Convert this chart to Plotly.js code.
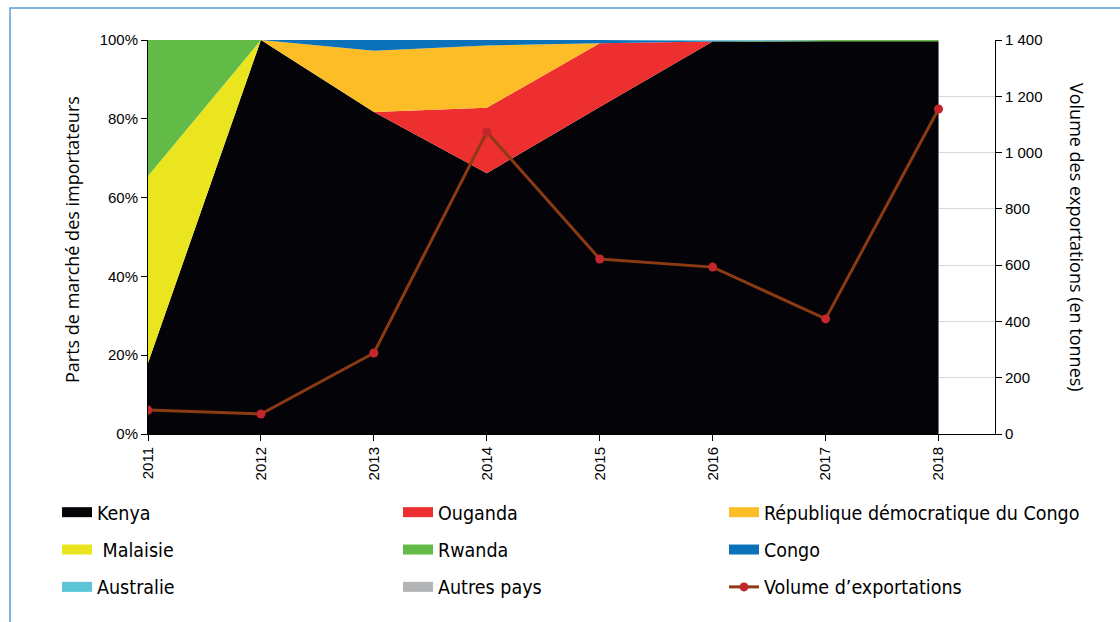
<!DOCTYPE html>
<html>
<head>
<meta charset="utf-8">
<script src="https://cdn.plot.ly/plotly-3.0.1.min.js"></script>
<style>html,body{margin:0;padding:0;background:#fff;}#chart{width:1120px;height:622px;}</style>
</head>
<body>
<div id="chart"></div>
<script>
const years = [2011, 2012, 2013, 2014, 2015, 2016, 2017, 2018];
const kenya     = [18.0, 100, 81.7, 66.2, 83.0, 99.6, 99.7, 99.7];
const ouganda   = [0, 0, 0, 16.6, 16.2, 0, 0, 0];
const rdc       = [0, 0, 15.6, 15.8, 0, 0, 0, 0];
const malaisie  = [47.5, 0, 0, 0, 0, 0, 0, 0];
const rwanda    = [34.5, 0, 0, 0, 0, 0, 0.3, 0.3];
const congo     = [0, 0, 2.7, 1.4, 0.8, 0.2, 0, 0];
const australie = [0, 0, 0, 0, 0, 0.2, 0, 0];
const autres    = [0, 0, 0, 0, 0, 0, 0, 0];
const volume    = [85, 71, 288, 1073, 622, 593, 409, 1155];

const seriesNames = ['Kenya', 'Ouganda', 'République démocratique du Congo', ' Malaisie', 'Rwanda', 'Congo', 'Australie', 'Autres pays'];
const seriesData = [kenya, ouganda, rdc, malaisie, rwanda, congo, australie, autres];
const seriesColors = ['#040308', '#ee2f2f', '#fdbd27', '#ebe51f', '#62bb46', '#0b72b9', '#5bc5d7', '#b2b4b5'];
const volumeName = 'Volume d’exportations';
const leftTitle = 'Parts de marché des importateurs';
const rightTitle = 'Volume des exportations (en tonnes)';

const legendIds = ['legend', 'legend2', 'legend3'];

const traces = seriesNames.map((n, i) => ({
  x: years, y: seriesData[i], name: n, type: 'scatter', mode: 'none',
  stackgroup: 'one', fill: 'tonexty', fillcolor: seriesColors[i],
  line: {width: 0}, hoverinfo: 'skip', showlegend: false
}));
traces.push({
  x: years, y: volume, name: volumeName, type: 'scatter', mode: 'lines+markers',
  yaxis: 'y2', line: {color: '#8b3a14', width: 3},
  marker: {color: '#c4262e', size: 9}, showlegend: false
});
// legend entries (no data, only legend swatches)
seriesNames.forEach((n, i) => {
  traces.push({
    x: [null], y: [null], name: n, type: 'scatter', mode: 'lines',
    line: {color: seriesColors[i], width: 15},
    legend: legendIds[i % 3], legendgroup: 'g' + i, showlegend: true, hoverinfo: 'skip'
  });
});
traces.push({
  x: [null], y: [null], name: volumeName, type: 'scatter', mode: 'lines+markers',
  yaxis: 'y2', line: {color: '#8b3a14', width: 3}, marker: {color: '#c4262e', size: 9},
  legend: 'legend3', legendgroup: 'g8', showlegend: true, hoverinfo: 'skip'
});

const L = 148, R = 995, T = 40, B = 434, W = 1120, H = 622;
const px = x => (x - L) / (R - L);
const py = y => (B - y) / (B - T);

const legendFont = {family: 'DejaVu Sans Condensed, Liberation Sans Narrow, sans-serif', size: 19.5, color: '#000'};
const mkLegend = (xPix) => ({
  orientation: 'v', xref: 'container', yref: 'container',
  x: (xPix - 5) / W, y: 1 - 493 / H, xanchor: 'left', yanchor: 'top',
  font: legendFont, tracegroupgap: 9, traceorder: 'grouped',
  bgcolor: 'rgba(0,0,0,0)', borderwidth: 0, itemwidth: 30
});

const layout = {
  width: W, height: H,
  margin: {l: L, r: W - R, t: T, b: H - B, autoexpand: false},
  paper_bgcolor: '#fff', plot_bgcolor: '#fff',
  font: {family: 'Liberation Sans, Arial, sans-serif', size: 15, color: '#000'},
  separators: ', ',
  showlegend: true,
  xaxis: {
    range: [2011, 2018.5], tickvals: years, ticktext: years.map(String),
    tickangle: -90, ticks: 'outside', ticklen: 6, tickcolor: '#000',
    showline: true, linecolor: '#000', linewidth: 1, showgrid: false, zeroline: false,
    tickfont: {size: 15}
  },
  yaxis: {
    range: [0, 100], dtick: 20, ticksuffix: '%', ticks: 'outside', ticklen: 6, tickcolor: '#000',
    showline: true, linecolor: '#000', linewidth: 1, showgrid: false, zeroline: false,
    tickfont: {size: 15}
  },
  yaxis2: {
    overlaying: 'y', side: 'right', range: [0, 1400], dtick: 200, separatethousands: true,
    ticks: 'outside', ticklen: 6, tickcolor: '#000',
    showline: true, linecolor: '#000', linewidth: 1, showgrid: true, gridcolor: '#d9d9d9', zeroline: false,
    tickfont: {size: 15}, layer: 'below traces'
  },
  legend: mkLegend(62),
  legend2: mkLegend(403),
  legend3: mkLegend(729),
  annotations: [{
    text: leftTitle, xref: 'paper', yref: 'paper',
    x: px(72), y: py(240), xanchor: 'center', yanchor: 'middle', textangle: -90, showarrow: false,
    font: {family: 'Open Sans, sans-serif', size: 18}
  }, {
    text: rightTitle, xref: 'paper', yref: 'paper',
    x: px(1077), y: py(237), xanchor: 'center', yanchor: 'middle', textangle: 90, showarrow: false,
    font: {family: 'Open Sans, sans-serif', size: 18}
  }],
  shapes: [{
    type: 'path', xref: 'paper', yref: 'paper',
    path: `M ${px(10)} ${py(640)} L ${px(10)} ${py(8)} L ${px(1130)} ${py(8)}`,
    line: {color: '#5b9bd5', width: 1.5}
  }]
};

Plotly.newPlot('chart', traces, layout, {displayModeBar: false, staticPlot: true});
</script>
</body>
</html>
